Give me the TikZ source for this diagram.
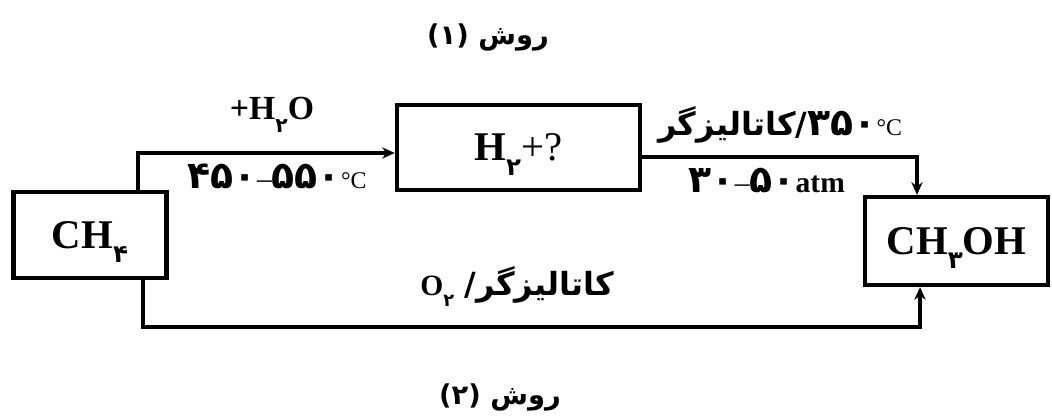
\documentclass[tikz,border=0pt]{standalone}
\usepackage{fontspec}
\setmainfont{Liberation Serif}
\newfontfamily\arabicfont[Script=Arabic,Scale=1.08]{DejaVu Sans}
\newfontfamily\numfont[Script=Arabic,Scale=1.28]{DejaVu Sans}
\TeXXeTstate=1
\usetikzlibrary{arrows.meta,positioning}

\newcommand\fa{\arabicfont\bfseries}
\newcommand\fn[1]{\hbox{\numfont\bfseries #1}}
\newcommand\subfa[1]{\raisebox{-0.36em}[0pt][0pt]{\fontsize{\dimexpr 0.47\fontdimen6\font\relax}{0pt}\numfont\bfseries #1}}
\newcommand\degc{{\fontsize{17}{20}\selectfont °C}}

\tikzset{
  box/.style={draw, line width=3pt, inner sep=0pt, font=\fontsize{29}{32}\selectfont},
  flow/.style={line width=2.2pt, -{Stealth[length=9pt,width=8pt]}},
  lbl/.style={inner sep=0pt, font=\fontsize{21}{24}\selectfont},
  title/.style={inner sep=0pt, font=\fontsize{18}{21}\selectfont},
}

\begin{document}
\begin{tikzpicture}
    \useasboundingbox (0,0) rectangle (26.3,10.425);

    % Titles
    \node[title] (t1) at (12.2,9.5) {\fa (۱) \beginR روش\endR};
    \node[title] (t2) at (12.5,0.5) {\fa (۲) \beginR روش\endR};

    % Boxes
    \node[box, minimum width=3.825cm, minimum height=2.15cm] (ch4) at (2.25,4.55) {\bfseries CH\subfa{۴}};
    \node[box, minimum width=6.075cm, minimum height=2.125cm] (h2) at (12.96,6.74) {{\bfseries H\subfa{۲}}+?};
    \node[box, minimum width=4.575cm, minimum height=2.2cm] (ch3oh) at (23.91,4.40) {\bfseries CH\subfa{۳}OH};

    % Bends of the connectors
    \coordinate (upL) at (3.45,6.6);
    \coordinate (midR) at (22.925,6.5);
    \coordinate (lowL) at (3.575,2.25);
    \coordinate (lowR) at (23.0,2.25);

    % Route (1)
    \draw[flow] (ch4.north -| upL) |- (h2.west |- upL);
    \draw[flow] (h2.east |- midR) -| (ch3oh.north -| midR);

    % Route (2)
    \draw[flow] (ch4.south -| lowL) -- (lowL) -- (lowR) -- (ch3oh.south -| lowR);

    % Conditions
    \node[lbl] (water) at (6.8,7.7) {\fontsize{24}{26}\selectfont\bfseries +H\subfa{۲}O};
    \node[lbl] (temp1) at (6.93,6.02) {\fn{۴۵۰}--\fn{۵۵۰}\degc};
    \node[lbl] (cat1) at (19.5,7.3) {\hbox{\fa\beginR کاتالیزگر\endR}\hbox{\fa /}\fn{۳۵۰}\degc};
    \node[lbl] (press) at (19.17,5.92) {\fn{۳۰}--\fn{۵۰}{\bfseries atm}};
    \node[lbl] (cat2) at (12.93,3.3) {{\bfseries O\subfa{۲}}\hspace{0.35em}\hbox{\fa /}\hbox{\fa\beginR کاتالیزگر\endR}};
\end{tikzpicture}
\end{document}
